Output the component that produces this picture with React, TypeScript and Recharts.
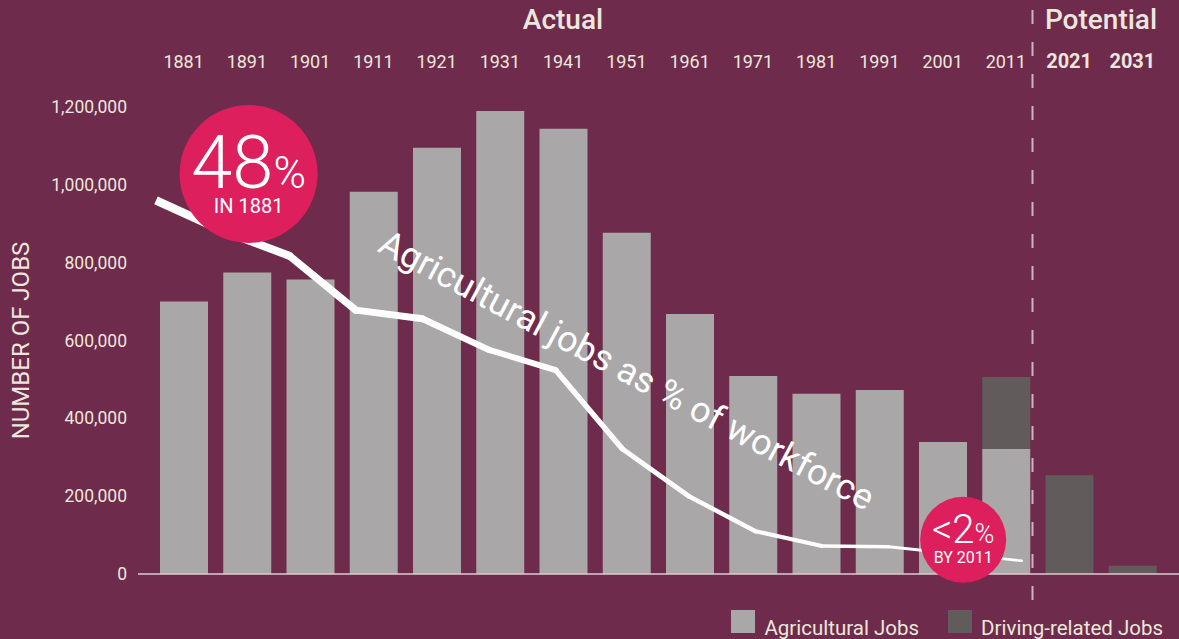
import {
  ComposedChart,
  Bar,
  Line,
  XAxis,
  YAxis,
  ReferenceLine,
  ReferenceDot,
  Legend,
} from "recharts";

const years = [
  "1881", "1891", "1901", "1911", "1921", "1931", "1941", "1951",
  "1961", "1971", "1981", "1991", "2001", "2011", "2021", "2031",
];
const potentialYears = ["2021", "2031"];

// number of jobs
const agriculturalJobs = [
  700000, 775000, 757000, 982000, 1095000, 1190000, 1144000, 877000,
  668000, 509000, 463000, 473000, 339000, 321000, null, null,
];
const drivingJobs = [
  null, null, null, null, null, null, null, null,
  null, null, null, null, null, 185000, 254000, 21000,
];

// agricultural jobs as % of workforce
const workforceShare = [
  48, 44.1, 40.9, 33.9, 32.8, 28.8, 26.2, 16.1,
  10, 5.5, 3.6, 3.5, 2.6, 1.7, null, null,
];

const jobTicks = [0, 200000, 400000, 600000, 800000, 1000000, 1200000];

const BG = "#6f2b4b";
const TEXT = "#ece7dc";
const PINK = "#dd1f5e";
const LIGHT = "#a9a7a8";
const DARK = "#615c5b";
const FONT = "Roboto, 'Noto Sans', sans-serif";

// the % line is drawn as short segments so that it can taper
const segmentCount = workforceShare.filter((v) => v !== null).length - 1;

const data = years.map((year, i) => {
  const row: Record<string, any> = {
    year,
    agricultural: agriculturalJobs[i],
    driving: drivingJobs[i],
  };
  for (let k = 0; k < segmentCount; k++) {
    row[`s${k}`] = i === k || i === k + 1 ? workforceShare[i] : null;
  }
  return row;
});

const YearTick = (props: any) => {
  const { x, y, payload } = props;
  const bold = potentialYears.includes(payload.value);
  return (
    <text
      x={x}
      y={y}
      textAnchor="middle"
      fill={TEXT}
      fontFamily={FONT}
      fontSize={bold ? 20 : 18}
      fontWeight={bold ? 700 : 400}
    >
      {payload.value}
    </text>
  );
};

const JobTick = (props: any) => {
  const { x, y, payload } = props;
  return (
    <text x={x} y={y} dy={6} textAnchor="end" fill={TEXT} fontFamily={FONT} fontSize={17.5}>
      {payload.value.toLocaleString("en-US")}
    </text>
  );
};

const StartBubble = (props: any) => {
  const { cx, cy } = props;
  if (cx == null) return null;
  const x = cx + 26;
  return (
    <g>
      <circle cx={x} cy={cy} r={69} fill={PINK} />
      <text x={x} y={cy + 14} textAnchor="middle" fill="#fff" fontFamily={FONT}>
        <tspan fontSize={74} fontWeight={300}>48</tspan>
        <tspan fontSize={44} fontWeight={300}>%</tspan>
      </text>
      <text x={x} y={cy + 39} textAnchor="middle" fill="#fff" fontFamily={FONT} fontSize={20}>
        IN 1881
      </text>
    </g>
  );
};

const EndBubble = (props: any) => {
  const { cx, cy } = props;
  if (cx == null) return null;
  const x = cx + 8;
  return (
    <g>
      <circle cx={x} cy={cy} r={43} fill={PINK} />
      <text x={x} y={cy + 3} textAnchor="middle" fill="#fff" fontFamily={FONT}>
        <tspan fontSize={40} fontWeight={300}>&lt;2</tspan>
        <tspan fontSize={27} fontWeight={300}>%</tspan>
      </text>
      <text x={x} y={cy + 23} textAnchor="middle" fill="#fff" fontFamily={FONT} fontSize={16}>
        BY 2011
      </text>
    </g>
  );
};

const DividerLine = (props: any) => {
  const { x1, y1, y2 } = props;
  if (x1 == null) return null;
  return (
    <line
      x1={x1 - 5}
      x2={x1 - 5}
      y1={y1 - 97}
      y2={y2 + 27}
      stroke="#cdb4c0"
      strokeWidth={2}
      strokeDasharray="14 18"
    />
  );
};

const LegendContent = () => (
  <div
    style={{
      display: "flex",
      justifyContent: "flex-end",
      alignItems: "flex-start",
      paddingRight: 16,
      paddingTop: 3,
      height: 32,
      boxSizing: "border-box",
      fontFamily: FONT,
      fontSize: 20.5,
      color: TEXT,
    }}
  >
    {[
      { label: "Agricultural Jobs", color: LIGHT },
      { label: "Driving-related Jobs", color: DARK },
    ].map((item, i) => (
      <div key={item.label} style={{ display: "flex", alignItems: "flex-start", marginLeft: i ? 29 : 0 }}>
        <div style={{ width: 24, height: 23, background: item.color, marginRight: 9 }} />
        <span style={{ lineHeight: "21px", paddingTop: 8, whiteSpace: "nowrap" }}>{item.label}</span>
      </div>
    ))}
  </div>
);

export default function App() {
  return (
    <div
      style={{
        position: "absolute",
        left: 0,
        top: 0,
        width: 1179,
        height: 639,
        background: BG,
        overflow: "hidden",
        fontFamily: FONT,
      }}
    >
      <div style={{ position: "absolute", left: 563, top: 3, transform: "translateX(-50%)", color: TEXT, fontSize: 28, fontWeight: 500 }}>
        Actual
      </div>
      <div style={{ position: "absolute", left: 1101, top: 3, transform: "translateX(-50%)", color: TEXT, fontSize: 28, fontWeight: 500 }}>
        Potential
      </div>
      <ComposedChart
        width={1179}
        height={639}
        data={data}
        margin={{ top: 40, right: 0, bottom: 0, left: 0 }}
        style={{ position: "absolute", left: 0, top: 0 }}
      >
        <XAxis
          xAxisId="top"
          orientation="top"
          dataKey="year"
          height={67}
          padding={{ left: 14, right: 15 }}
          axisLine={false}
          tickLine={false}
          tickSize={0}
          tickMargin={39}
          interval={0}
          tick={<YearTick />}
        />
        <XAxis
          xAxisId="pct"
          dataKey="year"
          hide
          scale="point"
          padding={{ left: 18, right: 24 }}
        />
        <XAxis
          xAxisId="base"
          orientation="bottom"
          dataKey="year"
          height={33}
          tick={false}
          tickLine={false}
          axisLine={{ stroke: "#dccbd2", strokeWidth: 1.5 }}
        />
        <YAxis
          yAxisId="jobs"
          width={138}
          domain={[0, 1200000]}
          ticks={jobTicks}
          axisLine={false}
          tickLine={false}
          tickMargin={5}
          tick={<JobTick />}
          label={{
            value: "NUMBER OF JOBS",
            angle: -90,
            position: "insideLeft",
            offset: 20,
            fill: TEXT,
            fontSize: 24,
            fontFamily: FONT,
            style: { textAnchor: "middle" },
          }}
        />
        <YAxis yAxisId="pct" orientation="right" hide domain={[0, 60]} />
        <Legend verticalAlign="bottom" align="right" content={<LegendContent />} />
        <Bar
          xAxisId="top"
          yAxisId="jobs"
          dataKey="agricultural"
          stackId="jobs"
          fill={LIGHT}
          barSize={48}
          isAnimationActive={false}
        />
        <Bar
          xAxisId="top"
          yAxisId="jobs"
          dataKey="driving"
          stackId="jobs"
          fill={DARK}
          barSize={48}
          isAnimationActive={false}
        />
        {Array.from({ length: segmentCount }, (_, k) => (
          <Line
            key={k}
            xAxisId="pct"
            yAxisId="pct"
            type="linear"
            dataKey={`s${k}`}
            stroke="#ffffff"
            strokeWidth={8.5 - (6 * k) / (segmentCount - 1)}
            strokeLinecap={k === 0 ? "butt" : "round"}
            dot={false}
            activeDot={false}
            legendType="none"
            isAnimationActive={false}
          />
        ))}
        <ReferenceLine
          xAxisId="top"
          yAxisId="jobs"
          x="2011"
          position="end"
          shape={<DividerLine />}
        />
        <ReferenceDot
          xAxisId="pct"
          yAxisId="pct"
          x="1891"
          y={51.4}
          ifOverflow="visible"
          shape={<StartBubble />}
        />
        <ReferenceDot
          xAxisId="pct"
          yAxisId="pct"
          x="2001"
          y={4.4}
          ifOverflow="visible"
          shape={<EndBubble />}
        />
      </ComposedChart>
      <svg
        width={1179}
        height={639}
        style={{ position: "absolute", left: 0, top: 0, pointerEvents: "none" }}
      >
        <text
          x={621}
          y={381}
          textAnchor="middle"
          fill="#ffffff"
          fontFamily={FONT}
          fontSize={36}
          transform="rotate(28 621 381)"
        >
          Agricultural jobs as % of workforce
        </text>
      </svg>
    </div>
  );
}
